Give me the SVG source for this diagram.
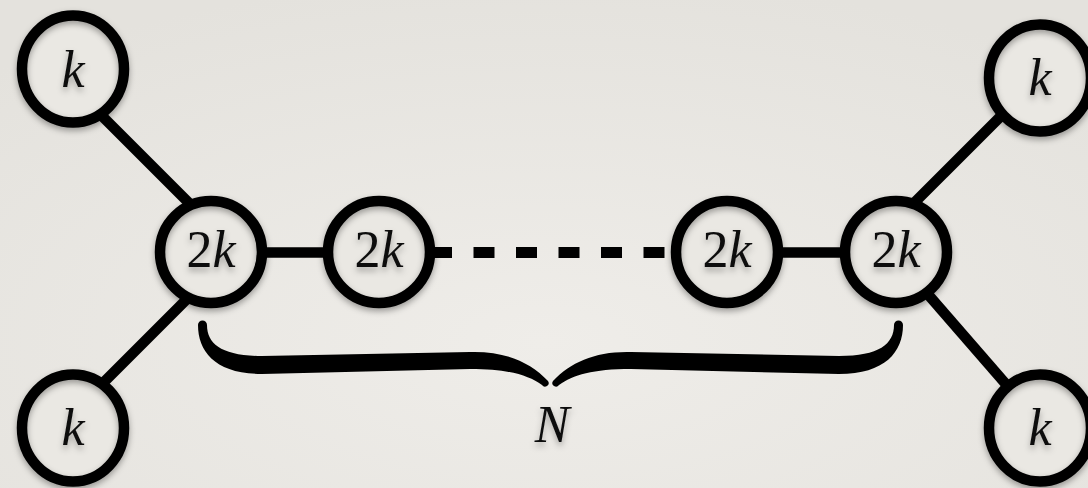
<svg xmlns="http://www.w3.org/2000/svg" width="1088" height="488" viewBox="0 0 1088 488">
  <style>
    .edge { stroke: #000; stroke-width: 10.5; fill: none; }
    .dash { stroke: #000; stroke-width: 11; fill: none; stroke-dasharray: 21 21.5; }
    .fill { fill: #eae8e3; stroke: none; }
    .ring { fill: none; stroke: #000; stroke-width: 10.5; filter: url(#shadow); }
    .lbl { font-family: 'Liberation Serif', 'Times New Roman', serif; font-size: 52px; fill: #111; text-anchor: middle; filter: url(#tshadow); }
    .it { font-style: italic; }
  </style>
  <defs>
    <radialGradient id="paper" cx="0.5" cy="0.7" r="0.75">
      <stop offset="0" stop-color="#efede9"/>
      <stop offset="1" stop-color="#e4e2dd"/>
    </radialGradient>
    <filter id="shadow" x="-20%" y="-20%" width="140%" height="150%">
      <feDropShadow dx="0" dy="3" stdDeviation="3" flood-color="#000" flood-opacity="0.35"/>
    </filter>
    <filter id="tshadow" x="-20%" y="-20%" width="140%" height="160%">
      <feDropShadow dx="0" dy="4" stdDeviation="3" flood-color="#000" flood-opacity="0.3"/>
    </filter>
  </defs>

  <rect width="1088" height="488" fill="url(#paper)"/>

  <!-- connectors -->
  <g id="connectors">
    <line class="edge" x1="95" y1="109" x2="195" y2="209"/>
    <line class="edge" x1="95" y1="391" x2="195" y2="291"/>
    <line class="edge" x1="211" y1="252.5" x2="379" y2="252.5"/>
    <line class="dash" x1="431" y1="252.5" x2="668" y2="252.5"/>
    <line class="edge" x1="727" y1="252.5" x2="896" y2="252.5"/>
    <line class="edge" x1="1018" y1="99" x2="910" y2="207"/>
    <line class="edge" x1="912" y1="276" x2="1018" y2="398"/>
  </g>

  <!-- outer k nodes -->
  <g id="k-top-left">
    <ellipse class="fill" cx="73" cy="69" rx="51" ry="53.5"/>
    <ellipse class="ring" cx="73" cy="69" rx="51" ry="53.5"/>
    <text class="lbl it" x="73" y="87">k</text>
  </g>
  <g id="k-bottom-left">
    <ellipse class="fill" cx="73" cy="428" rx="51" ry="53.5"/>
    <ellipse class="ring" cx="73" cy="428" rx="51" ry="53.5"/>
    <text class="lbl it" x="73" y="445">k</text>
  </g>
  <g id="k-top-right">
    <ellipse class="fill" cx="1040" cy="78" rx="51" ry="53.5"/>
    <ellipse class="ring" cx="1040" cy="78" rx="51" ry="53.5"/>
    <text class="lbl it" x="1040" y="95">k</text>
  </g>
  <g id="k-bottom-right">
    <ellipse class="fill" cx="1040" cy="428" rx="51" ry="53.5"/>
    <ellipse class="ring" cx="1040" cy="428" rx="51" ry="53.5"/>
    <text class="lbl it" x="1040" y="445">k</text>
  </g>

  <!-- chain of 2k nodes -->
  <g id="chain-1">
    <circle class="fill" cx="211" cy="252" r="51"/>
    <circle class="ring" cx="211" cy="252" r="51"/>
    <text class="lbl" x="211" y="267">2<tspan class="it">k</tspan></text>
  </g>
  <g id="chain-2">
    <circle class="fill" cx="379" cy="252" r="51"/>
    <circle class="ring" cx="379" cy="252" r="51"/>
    <text class="lbl" x="379" y="267">2<tspan class="it">k</tspan></text>
  </g>
  <g id="chain-3">
    <circle class="fill" cx="727" cy="252" r="51"/>
    <circle class="ring" cx="727" cy="252" r="51"/>
    <text class="lbl" x="727" y="267">2<tspan class="it">k</tspan></text>
  </g>
  <g id="chain-4">
    <circle class="fill" cx="896" cy="252" r="51"/>
    <circle class="ring" cx="896" cy="252" r="51"/>
    <text class="lbl" x="896" y="267">2<tspan class="it">k</tspan></text>
  </g>

  <!-- brace spanning the chain, with its count -->
  <g id="brace">
    <path fill="#000" d="M198,325 A4.5,4.5 0 0 1 207,325 C207,344 222,356 262,356 L470,352 C505,351 530,362 548,381 A3.5,3.5 0 0 1 542,385 C528,375 508,369 470,369 L262,374 C216,374 198,352 198,325 Z"/>
    <path fill="#000" transform="translate(1101,0) scale(-1,1)" d="M198,325 A4.5,4.5 0 0 1 207,325 C207,344 222,356 262,356 L470,352 C505,351 530,362 548,381 A3.5,3.5 0 0 1 542,385 C528,375 508,369 470,369 L262,374 C216,374 198,352 198,325 Z"/>
    <text class="lbl it" x="552" y="442" font-size="50">N</text>
  </g>
</svg>
